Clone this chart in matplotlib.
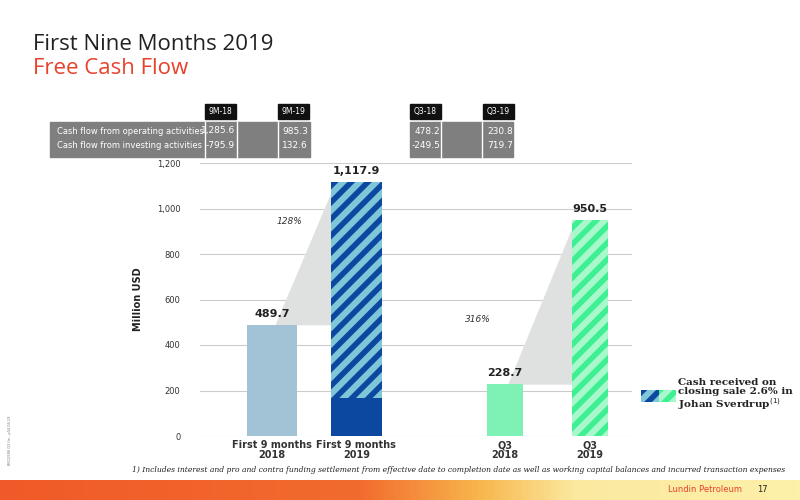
import matplotlib
matplotlib.use("Agg")
import matplotlib.pyplot as plt
from matplotlib.patches import Rectangle, Polygon
from matplotlib.colors import LinearSegmentedColormap
import numpy as np

categories = ["First 9 months\n2018", "First 9 months\n2019", "Q3\n2018", "Q3\n2019"]
values = [489.7, 1117.9, 228.7, 950.5]
base_2019 = 165.0
labels = ["489.7", "1,117.9", "228.7", "950.5"]
growth = ["128%", "316%"]
headers = ["9M-18", "9M-19", "Q3-18", "Q3-19"]
row_names = ["Cash flow from operating activities", "Cash flow from investing activities"]
operating = ["1,285.6", "985.3", "478.2", "230.8"]
investing = ["-795.9", "132.6", "-249.5", "719.7"]

W, H = 800, 500
fig = plt.figure(figsize=(8, 5), dpi=100)
fig.patch.set_facecolor("white")

def px(x, y):
    return x / W, 1 - y / H

fig.text(*px(33, 50), "First Nine Months 2019", fontsize=16, color="#222222", family="Open Sans")
fig.text(*px(33, 74), "Free Cash Flow", fontsize=16, color="#e8412c", family="Open Sans")

x0, x1, ytop, ybot = 200, 632, 163, 436
ax = fig.add_axes([x0 / W, 1 - ybot / H, (x1 - x0) / W, (ybot - ytop) / H])
pos = [0, 1, 2.77, 3.78]
widths = [0.6, 0.6, 0.43, 0.43]
ax.set_xlim(-0.86, 4.28)
ax.set_ylim(0, 1200)
for s in ax.spines.values():
    s.set_visible(False)
ax.set_yticks([0, 200, 400, 600, 800, 1000, 1200])
ax.set_yticklabels(["0", "200", "400", "600", "800", "1,000", "1,200"], fontsize=6, color="#333333")
ax.tick_params(axis="y", length=0, pad=14)
ax.grid(axis="y", color="#cccccc", lw=0.8)
ax.set_axisbelow(True)
ax.set_xticks(pos)
ax.set_xticklabels(categories, fontsize=7, fontweight="bold", color="#333333", linespacing=1.0)
ax.tick_params(axis="x", length=0, pad=3)
ax.set_ylabel("Million USD", fontsize=7, fontweight="bold", color="#222222", labelpad=10)

ax.add_patch(Polygon([(pos[0] + 0.05, values[0]), (pos[1] - widths[1] / 2, values[1] - 60),
                      (pos[1] - widths[1] / 2, values[0])], closed=True, color="#dfe1e1", zorder=1))
ax.add_patch(Polygon([(pos[2] + 0.05, values[2]), (pos[3] - widths[3] / 2, values[3] - 50),
                      (pos[3] - widths[3] / 2, values[2])], closed=True, color="#dfe1e1", zorder=1))

plt.rcParams["hatch.linewidth"] = 4
ax.bar(pos[0], values[0], widths[0], color="#a2c3d6", zorder=2)
ax.bar(pos[1], base_2019, widths[1], color="#0c47a0", zorder=2)
ax.bar(pos[1], values[1] - base_2019, widths[1], bottom=base_2019, color="#7ec6d8",
       hatch="//", edgecolor="#0c47a0", lw=0, zorder=2)
ax.bar(pos[2], values[2], widths[2], color="#7ef2b4", zorder=2)
ax.bar(pos[3], values[3], widths[3], color="#a8f8cc", hatch="//", edgecolor="#3ef092", lw=0, zorder=2)
for p, v, l in zip(pos, values, labels):
    ax.text(p, v + 25, l, ha="center", va="bottom", fontsize=8, fontweight="bold", color="#222222")
ax.text(0.2, 930, growth[0], fontsize=6.5, style="italic", color="#333333", ha="center")
ax.text(2.45, 500, growth[1], fontsize=6.5, style="italic", color="#333333", ha="center")

fig.patches.append(Rectangle(px(50, 157), 260 / W, 35 / H, transform=fig.transFigure, color="#7f7f7f"))
fig.patches.append(Rectangle(px(410, 157), 103 / W, 35 / H, transform=fig.transFigure, color="#7f7f7f"))
for xl in [205, 237, 278, 441, 482]:
    fig.add_artist(plt.Line2D([xl / W] * 2, [1 - 122 / H, 1 - 157 / H], color="white", lw=1))
hx = [205, 278, 410, 483]
for h, xl, op, iv in zip(headers, hx, operating, investing):
    fig.patches.append(Rectangle(px(xl, 119), 31 / W, 15 / H, transform=fig.transFigure, color="#111111"))
    fig.text((xl + 15.5) / W, 1 - 111.5 / H, h, fontsize=5.5, color="white", ha="center", va="center")
    fig.text((xl + 30) / W, 1 - 131 / H, op, fontsize=6.5, color="white", ha="right", va="center")
    fig.text((xl + 30) / W, 1 - 145 / H, iv, fontsize=6.5, color="white", ha="right", va="center")
fig.text(57 / W, 1 - 131 / H, row_names[0], fontsize=6, color="white", va="center")
fig.text(57 / W, 1 - 145 / H, row_names[1], fontsize=6, color="white", va="center")

fig.patches.append(Rectangle(px(641, 402), 18 / W, 12 / H, transform=fig.transFigure,
                             facecolor="#7ec6d8", hatch="//", edgecolor="#0c47a0", lw=0))
fig.patches.append(Rectangle(px(659, 402), 17 / W, 12 / H, transform=fig.transFigure,
                             facecolor="#a8f8cc", hatch="//", edgecolor="#3ef092", lw=0))
fig.text(678 / W, 1 - 395 / H, "Cash received on\nclosing sale 2.6% in\nJohan Sverdrup$^{(1)}$",
         fontsize=7.5, fontweight="bold", family="DejaVu Serif", color="#222222", va="center", linespacing=1.05)

fig.text(132 / W, 1 - 470 / H, "1) Includes interest and pro and contra funding settlement from effective date to completion date as well as working capital balances and incurred transaction expenses",
         fontsize=5.5, style="italic", family="DejaVu Serif", color="#222222", va="center")
fig.text(8 / W, 1 - 440 / H, "BR12586 Q3 fin - p04 04.19", fontsize=2.5, rotation=90, color="#777777", va="center")

grad = np.linspace(0, 1, 256).reshape(1, -1)
fax = fig.add_axes([0, 0, 1, 20 / H])
fax.axis("off")
cmap = LinearSegmentedColormap.from_list("f", [(0, "#f05a28"), (0.45, "#f26b2e"), (0.6, "#f8b64c"), (0.72, "#fbe9a0"), (1, "#fdf0a8")])
fax.imshow(grad, aspect="auto", cmap=cmap, extent=[0, 1, 0, 1])
fax.set_xlim(0, 1); fax.set_ylim(0, 1)
fig.text(705 / W, 10 / H, "Lundin Petroleum", fontsize=6, color="#e8412c", ha="center", va="center")
fig.text(762 / W, 10 / H, "17", fontsize=6, color="#222222", ha="center", va="center")

fig.savefig("out.png", dpi=100)
